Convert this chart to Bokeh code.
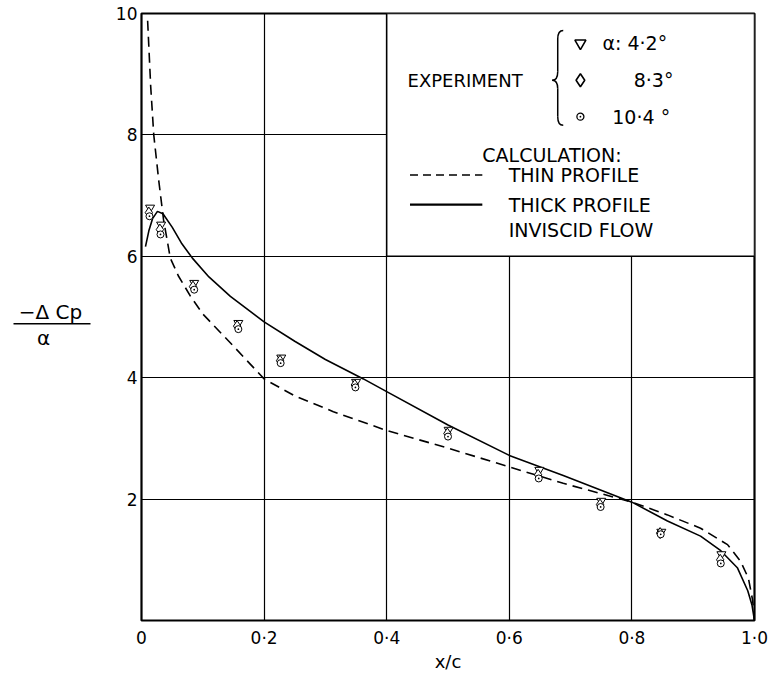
from bokeh.plotting import figure
from bokeh.layouts import row
from bokeh.models import Range1d, FixedTicker
from bokeh.core.properties import value
from bokeh.embed import file_html
from bokeh.resources import INLINE

# ---- data ----
thin_x = [0.010, 0.015, 0.020, 0.028, 0.036, 0.047, 0.060, 0.080, 0.100, 0.150, 0.200, 0.250,
          0.313, 0.400, 0.500, 0.600, 0.688, 0.800, 0.858, 0.912, 0.956, 0.977, 0.990, 0.997, 1.000]
thin_y = [9.88, 8.80, 8.00, 7.26, 6.60, 5.97, 5.68, 5.34, 5.05, 4.52, 3.98, 3.70,
          3.44, 3.13, 2.84, 2.53, 2.26, 1.95, 1.74, 1.52, 1.25, 0.98, 0.70, 0.33, 0.00]

thick_x = [0.0065, 0.012, 0.018, 0.026, 0.035, 0.050, 0.065, 0.083, 0.110, 0.145, 0.200, 0.250,
           0.300, 0.362, 0.400, 0.500, 0.600, 0.688, 0.800, 0.858, 0.912, 0.945, 0.972, 0.989,
           0.996, 1.000]
thick_y = [6.16, 6.42, 6.62, 6.74, 6.70, 6.48, 6.22, 5.97, 5.66, 5.34, 4.92, 4.60,
           4.30, 3.98, 3.77, 3.22, 2.72, 2.39, 1.95, 1.64, 1.39, 1.15, 0.87, 0.49,
           0.25, 0.00]

exp_x_42 = [0.014, 0.032, 0.086, 0.158, 0.228, 0.350, 0.501, 0.649, 0.750, 0.848, 0.946]
exp_y_42 = [6.80, 6.52, 5.56, 4.90, 4.33, 3.93, 3.14, 2.48, 1.97, 1.46, 1.09]
exp_x_83 = [0.012, 0.030, 0.084, 0.156, 0.226, 0.348, 0.499, 0.647, 0.748, 0.846, 0.944]
exp_y_83 = [6.72, 6.44, 5.50, 4.85, 4.28, 3.88, 3.08, 2.40, 1.91, 1.44, 1.00]
exp_x_104 = [0.013, 0.031, 0.086, 0.158, 0.227, 0.349, 0.500, 0.648, 0.749, 0.847, 0.945]
exp_y_104 = [6.66, 6.36, 5.45, 4.80, 4.24, 3.84, 3.03, 2.34, 1.87, 1.42, 0.94]

x_ticks = [0.0, 0.2, 0.4, 0.6, 0.8, 1.0]
x_tick_labels = ["0", "0·2", "0·4", "0·6", "0·8", "1·0"]
y_ticks = [2, 4, 6, 8, 10]
y_tick_labels = ["2", "4", "6", "8", "10"]

FONT = "DejaVu Sans"
TOP, BOTTOM = 13, 51
HEIGHT = 674
LEFT_W = 100

# ---- left panel holding the fraction-style y label ----
lp = figure(width=LEFT_W, height=HEIGHT, output_backend="svg", toolbar_location=None,
            x_range=Range1d(0, LEFT_W), y_range=Range1d(0, 10),
            min_border_left=0, min_border_right=0, min_border_top=TOP, min_border_bottom=BOTTOM)
lp.axis.visible = False
lp.grid.visible = False
lp.outline_line_color = None
lp.text(x=[50], y=[5.08], text=["−Δ Cp"], text_font=value(FONT), text_font_size="20px",
        text_align="center", text_baseline="middle", text_color="black")
lp.line([13, 90], [4.89, 4.89], line_color="black", line_width=1.5)
lp.text(x=[43], y=[4.66], text=["α"], text_font=value(FONT), text_font_size="20px",
        text_align="center", text_baseline="middle", text_color="black")

# ---- main chart ----
p = figure(width=768 - LEFT_W, height=HEIGHT, output_backend="svg", toolbar_location=None,
           x_range=Range1d(0, 1), y_range=Range1d(0, 10),
           min_border_left=141 - LEFT_W, min_border_right=14,
           min_border_top=TOP, min_border_bottom=BOTTOM)
p.background_fill_color = "white"
p.border_fill_color = "white"
p.outline_line_color = "black"
p.outline_line_width = 2.2

p.xaxis.ticker = FixedTicker(ticks=x_ticks)
p.xaxis.major_label_overrides = {t: l for t, l in zip(x_ticks, x_tick_labels)}
p.yaxis.ticker = FixedTicker(ticks=y_ticks)
p.yaxis.major_label_overrides = {t: l for t, l in zip(y_ticks, y_tick_labels)}
for ax in (p.xaxis[0], p.yaxis[0]):
    ax.axis_line_color = None
    ax.major_tick_in = 0
    ax.major_tick_out = 0
    ax.minor_tick_in = 0
    ax.minor_tick_out = 0
    ax.major_label_text_font = FONT
    ax.major_label_text_font_size = "17px"
    ax.major_label_text_color = "black"
p.xaxis.major_label_standoff = 7
p.yaxis.major_label_standoff = 4
p.xaxis.axis_label = "x/c"
p.xaxis.axis_label_text_font = FONT
p.xaxis.axis_label_text_font_style = "normal"
p.xaxis.axis_label_text_font_size = "18px"
p.xaxis.axis_label_text_color = "black"
p.xaxis.axis_label_standoff = 0

p.xgrid.ticker = FixedTicker(ticks=[0.2, 0.4, 0.6, 0.8])
p.ygrid.ticker = FixedTicker(ticks=[2, 4, 6, 8])
for g in (p.xgrid[0], p.ygrid[0]):
    g.grid_line_color = "black"
    g.grid_line_width = 1.2
    g.grid_line_alpha = 1.0

# legend panel (white box covering the grid)
p.quad(left=[0.4], right=[1.0], bottom=[6.0], top=[10.0],
       fill_color="white", line_color="black", line_width=1.5)

# curves
p.line(thin_x, thin_y, line_color="black", line_width=1.6, line_dash="10 6")
p.line(thick_x, thick_y, line_color="black", line_width=1.6)

# experimental points
p.scatter(exp_x_42, exp_y_42, marker="inverted_triangle", size=9,
          fill_color="white", line_color="black", line_width=1)
p.scatter(exp_x_83, exp_y_83, marker="diamond", size=11,
          fill_color="white", line_color="black", line_width=1)
p.scatter(exp_x_104, exp_y_104, marker="circle_dot", size=7,
          fill_color="white", line_color="black", line_width=1)

def txt(x, y, s, size="19px", align="left"):
    p.text(x=[x], y=[y], text=[s], text_font=value(FONT), text_font_size=size,
           text_align=align, text_baseline="middle", text_color="black")

txt(0.434, 8.90, "EXPERIMENT", size="18px")
# brace
xr, xm, xt = 0.688, 0.679, 0.670
yt, ym, yb = 9.72, 8.90, 8.16
d = 0.14
p.quadratic(x0=[xr, xm, xt, xm], y0=[yt, ym + d, ym, yb + d],
            x1=[xm, xt, xm, xr], y1=[yt - d, ym, ym - d, yb],
            cx=[xm, xm, xm, xm], cy=[yt, ym, ym, yb], line_color="black", line_width=1.5)
p.segment(x0=[xm, xm], y0=[yt - d, ym - d], x1=[xm, xm], y1=[ym + d, yb + d],
          line_color="black", line_width=1.5)

p.scatter([0.716], [9.51], marker="inverted_triangle", size=11, fill_color="white",
          line_color="black", line_width=1.6)
p.scatter([0.716], [8.90], marker="diamond", size=13, fill_color="white",
          line_color="black", line_width=1.6)
p.scatter([0.716], [8.30], marker="circle_dot", size=7, fill_color="white",
          line_color="black", line_width=1.3)
txt(0.752, 9.51, "α:  4·2°")
txt(0.803, 8.90, "8·3°")
txt(0.768, 8.30, "10·4 °")
txt(0.556, 7.67, "CALCULATION:")
p.line([0.438, 0.556], [7.34, 7.34], line_color="black", line_width=1.5, line_dash="8 5")
txt(0.599, 7.34, "THIN  PROFILE")
p.line([0.438, 0.556], [6.85, 6.85], line_color="black", line_width=2.2)
txt(0.599, 6.85, "THICK  PROFILE")
txt(0.599, 6.44, "INVISCID  FLOW")

layout = row(lp, p)
open("out.html", "w").write(file_html(layout, INLINE))
